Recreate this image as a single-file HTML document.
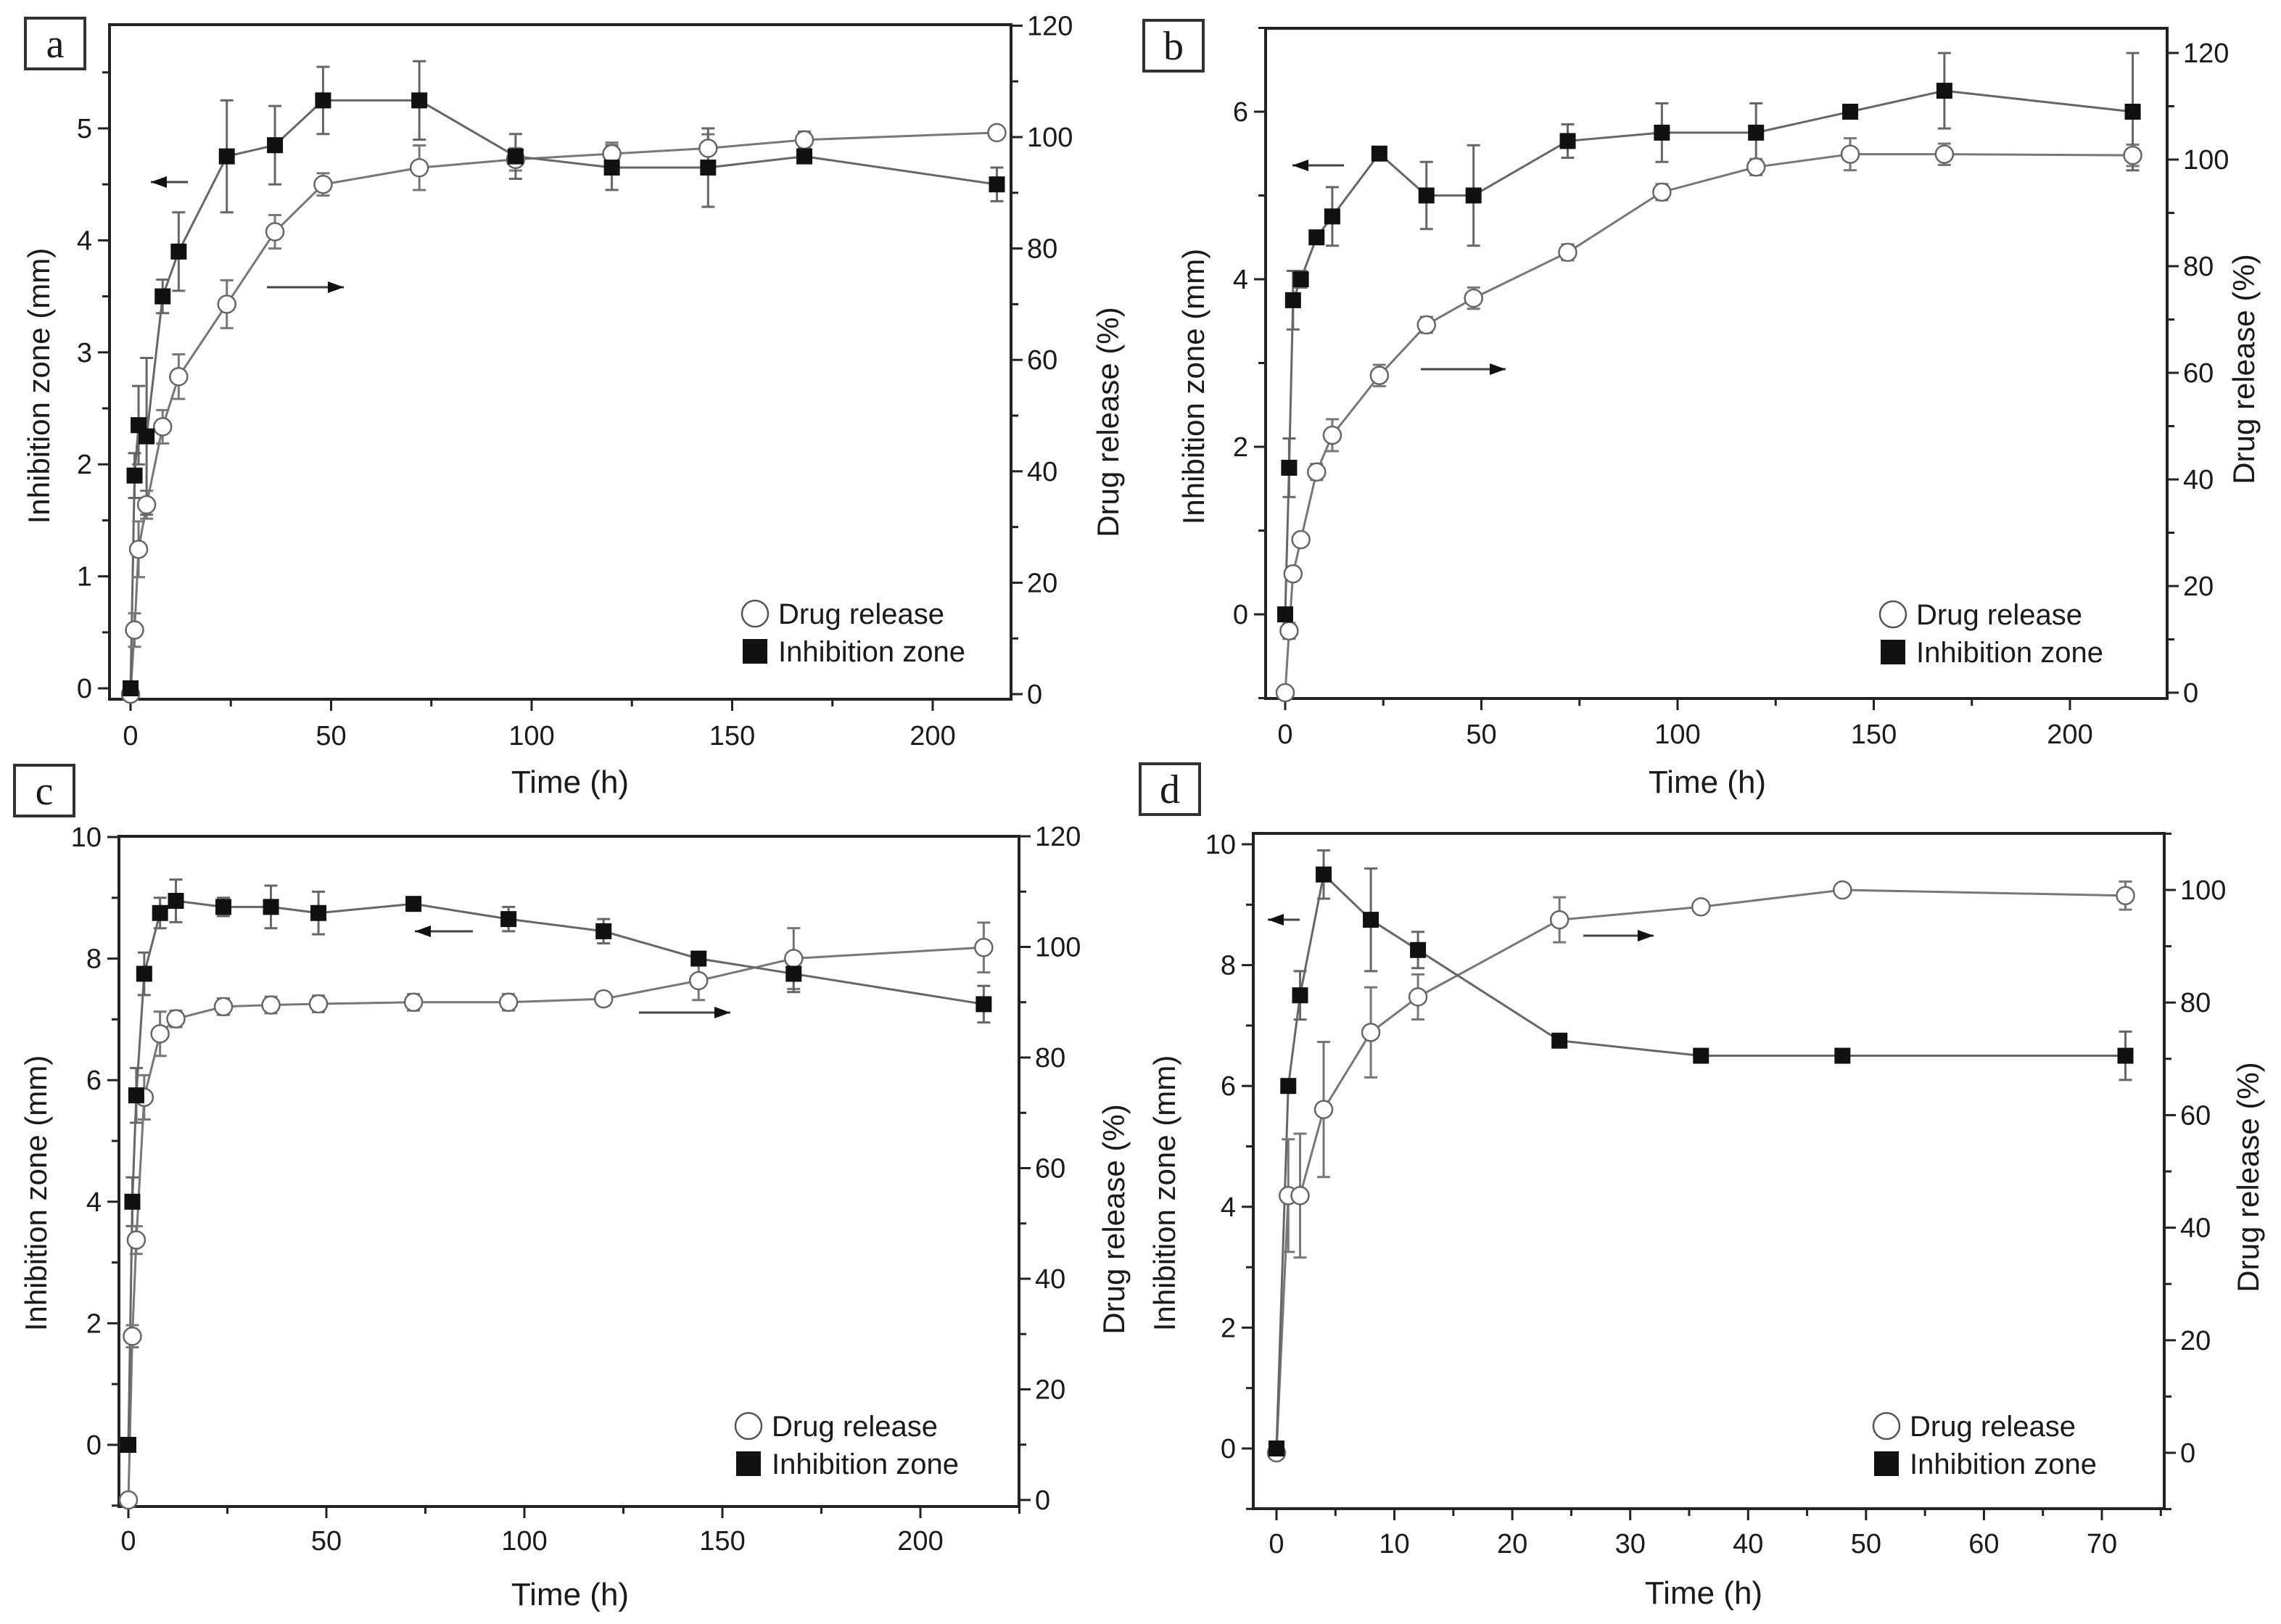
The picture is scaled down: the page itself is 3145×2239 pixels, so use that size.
<!DOCTYPE html>
<html><head><meta charset="utf-8"><style>
html,body{margin:0;padding:0;background:#fff;}
svg{display:block;font-family:"Liberation Sans",Arial,sans-serif;}
</style></head><body>
<svg id="fig" width="3145" height="2239" viewBox="0 0 3145 2239" xmlns="http://www.w3.org/2000/svg">
<rect width="3145" height="2239" fill="#fff"/>
</svg>
<script>
// ---- shared time categories ----
const timesABC = [0,1,2,4,8,12,24,36,48,72,96,120,144,168,216];
const timesD = [0,1,2,4,8,12,24,36,48,72];
// ---- panel a ----
const aZone = [0,1.9,2.35,2.25,3.5,3.9,4.75,4.85,5.25,5.25,4.75,4.65,4.65,4.75,4.5];
const aZoneErr = [0,0.2,0.35,0.7,0.15,0.35,0.5,0.35,0.3,0.35,0.2,0.2,0.35,0.05,0.15];
const aRel = [0,11.5,26,34,48,57,70,83,91.5,94.5,96,97,98,99.5,100.8];
const aRelErr = [0,3,5,2.5,3,4,4.3,3,2,4,2,2,2.5,1.5,0.5];
// ---- panel b ----
const bZone = [0,1.75,3.75,4.0,4.5,4.75,5.5,5.0,5.0,5.65,5.75,5.75,6.0,6.25,6.0];
const bZoneErr = [0,0.35,0.35,0.1,0,0.35,0,0.4,0.6,0.2,0.35,0.35,0,0.45,0.7];
const bRel = [0,11.6,22.3,28.7,41.4,48.3,59.5,69,74,82.6,93.9,98.6,101,101,100.8];
const bRelErr = [0,1.5,1,1,1.5,3,2,1.5,2,1.5,1.5,1.5,3,2,2];
// ---- panel c ----
const cZone = [0,4.0,5.75,7.75,8.75,8.95,8.85,8.85,8.75,8.9,8.65,8.45,8.0,7.75,7.25];
const cZoneErr = [0,0.4,0.45,0.35,0.25,0.35,0.15,0.35,0.35,0.1,0.2,0.2,0.05,0.3,0.3];
const cRel = [0,29.6,47,72.8,84.3,87,89.2,89.5,89.7,90,90,90.6,93.9,97.9,99.9];
const cRelErr = [0,2,2.5,4,4,1.5,1.5,1.5,1.5,1.5,1.5,1.2,3.5,5.5,4.5];
// ---- panel d ----
const dZone = [0,6.0,7.5,9.5,8.75,8.25,6.75,6.5,6.5,6.5];
const dZoneErr = [0,0,0.4,0.4,0.85,0.3,0,0,0,0.4];
const dRel = [0,45.7,45.7,61,74.7,81,94.7,97,100,99];
const dRelErr = [0,10,11,12,8,4,4,0.5,0.5,2.5];
// ---- tick labels ----
const xTicksABC = [0,50,100,150,200];
const xTicksD = [0,10,20,30,40,50,60,70];
const aLeftTicks = [0,1,2,3,4,5];
const bLeftTicks = [0,2,4,6];
const cdLeftTicks = [0,2,4,6,8,10];
const abcRightTicks = [0,20,40,60,80,100,120];
const dRightTicks = [0,20,40,60,80,100];

const NS = "http://www.w3.org/2000/svg";
const svg = document.getElementById('fig');
function mk(tag, attrs, parent){
  const e = document.createElementNS(NS, tag);
  for (const k in attrs) e.setAttribute(k, attrs[k]);
  (parent||svg).appendChild(e);
  return e;
}
function line(g,x1,y1,x2,y2,stroke,w){return mk('line',{x1:x1,y1:y1,x2:x2,y2:y2,stroke:stroke,'stroke-width':w},g);}
function text(g,x,y,s,size,anchor,extra){
  const t = mk('text',Object.assign({x:x,y:y,'font-size':size,'text-anchor':anchor||'middle',fill:'#1a1a1a'},extra||{}),g);
  t.textContent = s; return t;
}

function panel(p){
  const g = mk('g',{});
  
  
  const X = v => p.x0 + (v - p.xd0) / (p.xd1 - p.xd0) * (p.x1 - p.x0);
  const YL = v => p.yb + (v - p.yl0) / (p.yl1 - p.yl0) * (p.yt - p.yb);
  const YR = v => p.rb + v / 100 * (p.rt - p.rb);
  const fr = mk('rect',{x:p.L,y:p.T,width:p.R-p.L,height:p.B-p.T,fill:'none',stroke:'#222','stroke-width':4},g);
  
  
  for (let v=p.xd0; X(v)<=p.R+1; v+=p.xMinor){
    const major = p.xTicks.some(t=>Math.abs(t-v)<1e-9);
    line(g,X(v),p.B,X(v),p.B+(major?16:10),'#222',3);
  }
  p.xTicks.forEach(v=>{
    const t = text(g,X(v),p.xLabY,String(v),38,'middle');
    
    
  });
  for (let v=p.lMinStart; YL(v)>=p.T-1; v+=p.lMinor){
    if (YL(v)>p.B+1) continue;
    const major = p.lTicks.some(t=>Math.abs(t-v)<1e-9);
    line(g,p.L,YL(v),p.L-(major?16:10),YL(v),'#222',3);
  }
  p.lTicks.forEach(v=>{
    const t = text(g,p.L-24,YL(v)+13,String(v),38,'end');
    
    
  });
  for (let v=-20; YR(v)>=p.T-1; v+=10){
    if (YR(v)>p.B+1) continue;
    const major = p.rTicks.some(t=>Math.abs(t-v)<1e-9);
    line(g,p.R,YR(v),p.R+(major?16:10),YR(v),'#222',3);
  }
  p.rTicks.forEach(v=>{
    const t = text(g,p.R+22,YR(v)+13,String(v),38,'start');
    
    
  });
  const xt = text(g,p.xTitleX,p.xTitleY,'Time (h)',44,'middle');
  
  
  const yl = text(g,0,0,'Inhibition zone (mm)',42,'middle',{transform:`translate(${p.ylX},${p.ylY}) rotate(-90)`});
  
  
  const yr = text(g,0,0,'Drug release (%)',42,'middle',{transform:`translate(${p.yrX},${p.yrY}) rotate(-90)`});
  
  
  const lb = mk('rect',{x:p.lbx,y:p.lby,width:82,height:70,fill:'#fff',stroke:'#333','stroke-width':4},g);
  
  
  const lt = text(g,p.lbx+41,p.lby+54,p.id,56,'middle',{'font-family':'"Liberation Serif",serif'});
  
  
  const rel = p.times.map((t,i)=>[X(t),YR(p.rel[i])]);
  const rl = mk('polyline',{points:rel.map(q=>q.join(',')).join(' '),fill:'none',stroke:'#777','stroke-width':3},g);
  
  
  const zn = p.times.map((t,i)=>[X(t),YL(p.zone[i])]);
  const zl = mk('polyline',{points:zn.map(q=>q.join(',')).join(' '),fill:'none',stroke:'#666','stroke-width':3},g);
  
  
  p.times.forEach((t,i)=>{
    const x = X(t);
    if (p.relErr[i]>0){
      const y1=YR(p.rel[i]-p.relErr[i]), y2=YR(p.rel[i]+p.relErr[i]);
      const eb = mk('path',{d:`M${x},${y1}V${y2}M${x-9},${y1}H${x+9}M${x-9},${y2}H${x+9}`,stroke:'#777','stroke-width':3,fill:'none'},g);
      
      
    }
    if (p.zoneErr[i]>0){
      const y1=YL(p.zone[i]-p.zoneErr[i]), y2=YL(p.zone[i]+p.zoneErr[i]);
      const eb = mk('path',{d:`M${x},${y1}V${y2}M${x-9},${y1}H${x+9}M${x-9},${y2}H${x+9}`,stroke:'#666','stroke-width':3,fill:'none'},g);
      
      
    }
  });
  rel.forEach(q=>{
    const c = mk('circle',{cx:q[0],cy:q[1],r:12,fill:'#fff',stroke:'#666','stroke-width':2.5},g);
    
    
  });
  zn.forEach(q=>{
    const r = mk('rect',{x:q[0]-11,y:q[1]-11,width:22,height:22,fill:'#111'},g);
    
    
  });
  const al = mk('path',{d:`M${p.arL[0]},${p.arL[2]}H${p.arL[1]}`,stroke:'#444','stroke-width':3},g);
  
  
  mk('path',{d:`M${p.arL[0]},${p.arL[2]}l22,-8v16z`,fill:'#111'},g);
  const ar = mk('path',{d:`M${p.arR[0]},${p.arR[2]}H${p.arR[1]}`,stroke:'#444','stroke-width':3},g);
  
  
  mk('path',{d:`M${p.arR[1]},${p.arR[2]}l-22,-8v16z`,fill:'#111'},g);
  const lg = mk('g',{},g);
  
  
  const lc = mk('circle',{cx:p.lgx,cy:p.lgy,r:18,fill:'#fff',stroke:'#555','stroke-width':2.5},lg);
  
  
  const l1 = text(lg,p.lgx+32,p.lgy+14,'Drug release',40,'start');
  
  
  const ls = mk('rect',{x:p.lgx-17,y:p.lgy+35,width:34,height:34,fill:'#111'},lg);
  
  
  const l2 = text(lg,p.lgx+32,p.lgy+66,'Inhibition zone',40,'start');
  
  
}

panel({id:'a',L:151,R:1394,T:34,B:964,
  x0:180,x1:1286,xd0:0,xd1:200,xTicks:xTicksABC,xMinor:25,xLabY:1027,
  yb:949,yt:177,yl0:0,yl1:5,lTicks:aLeftTicks,lMinor:0.5,lMinStart:0,
  rb:957,rt:189,rTicks:abcRightTicks,
  times:timesABC,zone:aZone,zoneErr:aZoneErr,rel:aRel,relErr:aRelErr,
  xTitleX:786,xTitleY:1093,ylX:68,ylY:532,yrX:1542,yrY:582,
  lbx:35,lby:25,arL:[208,259,251],arR:[368,474,396],lgx:1041,lgy:846});
panel({id:'b',L:1745,R:2988,T:39,B:963,
  x0:1772,x1:2854,xd0:0,xd1:200,xTicks:xTicksABC,xMinor:25,xLabY:1025,
  yb:847,yt:154,yl0:0,yl1:6,lTicks:bLeftTicks,lMinor:1,lMinStart:-1,
  rb:955,rt:220,rTicks:abcRightTicks,
  times:timesABC,zone:bZone,zoneErr:bZoneErr,rel:bRel,relErr:bRelErr,
  xTitleX:2354,xTitleY:1093,ylX:1660,ylY:533,yrX:3108,yrY:509,
  lbx:1577,lby:28,arL:[1782,1853,228],arR:[1959,2076,509],lgx:2610,lgy:847});
panel({id:'c',L:164,R:1405,T:1153,B:2077,
  x0:177,x1:1269,xd0:0,xd1:200,xTicks:xTicksABC,xMinor:25,xLabY:2137,
  yb:1992,yt:1154,yl0:0,yl1:10,lTicks:cdLeftTicks,lMinor:1,lMinStart:-1,
  rb:2068,rt:1305.5,rTicks:abcRightTicks,
  times:timesABC,zone:cZone,zoneErr:cZoneErr,rel:cRel,relErr:cRelErr,
  xTitleX:786,xTitleY:2213,ylX:64,ylY:1645,yrX:1550,yrY:1681,
  lbx:20,lby:1055,arL:[572,652,1284],arR:[881,1007,1396],lgx:1032,lgy:1966});
panel({id:'d',L:1728,R:2984,T:1149,B:2080,
  x0:1760,x1:2898,xd0:0,xd1:70,xTicks:xTicksD,xMinor:5,xLabY:2141,
  yb:1997,yt:1164,yl0:0,yl1:10,lTicks:cdLeftTicks,lMinor:1,lMinStart:-1,
  rb:2003,rt:1227,rTicks:dRightTicks,
  times:timesD,zone:dZone,zoneErr:dZoneErr,rel:dRel,relErr:dRelErr,
  xTitleX:2349,xTitleY:2211,ylX:1620,ylY:1645,yrX:3114,yrY:1623,
  lbx:1572,lby:1053,arL:[1748,1792,1268],arR:[2183,2280,1290],lgx:2601,lgy:1966});
</script>
</body></html>
